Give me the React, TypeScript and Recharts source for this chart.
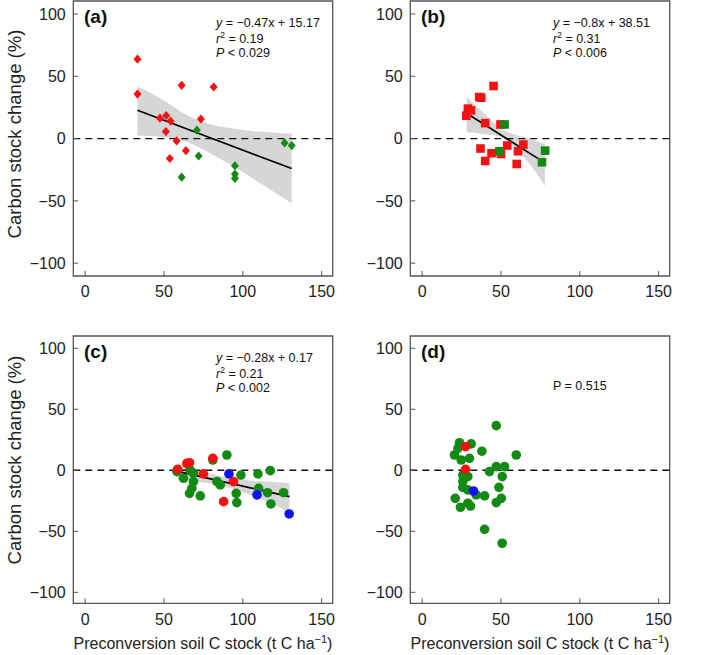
import React from 'react';
import { ComposedChart, Scatter, Area, XAxis, YAxis, ReferenceLine, ReferenceArea } from 'recharts';

const FONT = '"Liberation Sans", Arial, Helvetica, sans-serif';
const RED = '#f21212';
const GREEN = '#138a13';
const BLUE = '#1212ee';

const xTicks = [0, 50, 100, 150];
const yTicks = [-100, -50, 0, 50, 100];

// (a) pasture -> cropland, diamonds
const aRed = [[33.2, 63.7], [33.2, 35.7], [61.2, 42.7], [81.5, 41.4], [47.4, 16.4], [51.4, 18.5], [54.2, 14], [73.4, 15.6], [51.2, 5.6], [58, -1.9], [63.9, -9.7], [53.7, -16]];
const aGreen = [[70.9, 6.7], [72, -14], [61.2, -31], [95, -21.8], [95, -28.5], [95, -32], [126.5, -3.5], [131, -5.6]];
const aFit = [[33.2, 22.7], [131, -24.1]];
const aBandX = [33.2, 50, 65, 80, 95, 110, 131];
const aBandLo = [2.4, 1, -3, -12.4, -23, -35, -52];
const aBandHi = [42, 30.6, 18.5, 11.3, 7.8, 5.6, 3.8];

// (b) squares
const bRed = [[45.3, 42.2], [36.2, 33.3], [37.5, 32.8], [29, 24], [31, 22.6], [28, 18.3], [40, 12.4], [37, -8], [44, -11.8], [40, -18], [50, -12.4], [54, -5.6], [60.8, -10.2], [64.2, -4.8], [60, -20.4], [49.7, 11.3]];
const bGreen = [[52.3, 11.3], [49, -10.2], [78, -9.7], [76, -19]];
const bFit = [[30.7, 18.3], [73.6, -16.1]];
const bBandX = [28.2, 39.6, 50.2, 60.8, 71.4, 77.8];
const bBandLo = [5.1, 3.5, 1, -9.7, -25.8, -37.9];
const bBandHi = [33.3, 19.9, 7.8, 2.4, -1.6, -4.3];

// (c) circles
const cRed = [[58.6, 0.8], [64.5, 5.7], [66.2, 6.2], [81, 9.8], [75, -3], [94.1, -9.3], [87.8, -25.7]];
const cBlue = [[91.2, -3], [109, -20.2], [129.4, -35.8]];
const cGreen = [[58.2, -1.1], [62.4, -6.6], [66.6, 0.2], [68.7, -2.5], [68.7, -9.3], [67.7, -14.8], [66.2, -18.9], [73, -21], [81, 8.4], [89.9, 12.5], [83.6, -9.3], [85.7, -12], [98.8, -3.9], [95.8, -18.9], [96.2, -26.5], [109.6, -3], [110, -14.8], [117.4, -0.3], [115.7, -18.4], [117.8, -27.6], [125.8, -18.4]];
const cFit = [[59.2, -1.1], [129.6, -21.6]];
const cBandX = [59.2, 75, 90, 105, 118, 129.6];
const cBandLo = [-8, -10, -14, -20.4, -27, -34.8];
const cBandHi = [6, -1, -6, -8.4, -9.5, -10.7];

// (d) circles, no fit
const dGreen = [[47, 36.6], [23.7, 22.6], [31.1, 21.6], [22.7, 18], [20.5, 12.5], [37.9, 15.6], [59.7, 12.5], [30, 9.8], [24.8, 8.4], [47, 3], [52.3, 3], [42.7, -1.1], [50.8, -5.2], [25.8, -3.9], [29, -5.2], [25.8, -9.3], [25.8, -14], [29, -16.1], [48.7, -14], [39.6, -21], [21, -23], [50.2, -23], [47, -26.5], [29, -27], [30.7, -29.3], [24.3, -30.3], [39.6, -48.4], [50.8, -59.8], [34.3, -20.2]];
const dRed = [[27.5, 19.3], [27.5, 0.8]];
const dBlue = [[32.6, -17]];

const pts = (a: number[][]) => a.map(([x, y]) => ({ x, y }));
const minus = (v: number) => String(v).replace('-', '\u2212');

const diamond = (p: any) => (
  <path d={`M${p.cx},${p.cy - 4.6}L${p.cx + 4},${p.cy}L${p.cx},${p.cy + 4.6}L${p.cx - 4},${p.cy}Z`} fill={p.fill} />
);
const square = (p: any) => <rect x={p.cx - 4.3} y={p.cy - 4.3} width={8.6} height={8.6} fill={p.fill} />;
const circle = (p: any) => <circle cx={p.cx} cy={p.cy} r={4.8} fill={p.fill} />;
const none = () => <g />;

const YTick = (p: any) => (
  <text x={p.x} y={p.y} dy="0.355em" textAnchor="end" fontSize={16} fill="#222" fontFamily={FONT}>
    {minus(p.payload.value)}
  </text>
);

interface PanelProps {
  left: number;
  top: number;
  height: number;
  plotH: number;
  yDomain: number[];
  tag: string;
  note: React.ReactNode;
  shape: any;
  groups: { pts: number[][]; color: string }[];
  fit?: number[][];
  bandX?: number[];
  bandLo?: number[];
  bandHi?: number[];
  yTitleY?: number;
  xTitle?: boolean;
}

function Panel(props: PanelProps) {
  const { left, top, height, plotH, yDomain, tag, note, shape, groups, fit, bandX, bandLo, bandHi, yTitleY, xTitle } = props;
  const data = bandX ? bandX.map((x, i) => ({ x, band: [bandLo![i], bandHi![i]] })) : [];
  const tickStyle = { fontSize: 16, fill: '#222', fontFamily: FONT };
  return (
    <div style={{ position: 'absolute', left, top }}>
      <ComposedChart width={340} height={height} data={data} margin={{ top: 1, right: 7.3, bottom: 0, left: 0 }}>
        <XAxis type="number" dataKey="x" domain={[-7.5, 157]} ticks={xTicks} allowDataOverflow axisLine={false}
          tickSize={-5} tickMargin={15} tickLine={{ stroke: '#555' }} tick={tickStyle} height={height - 1 - plotH} />
        <YAxis type="number" dataKey="y" domain={yDomain} ticks={yTicks} allowDataOverflow axisLine={false}
          tickSize={-5} tickMargin={12.6} tickLine={{ stroke: '#555' }} tick={<YTick />} width={73.3} />
        {bandX && (
          <Area dataKey="band" type="monotone" fill="#d6d6d6" fillOpacity={1} stroke="none" isAnimationActive={false} />
        )}
        <ReferenceLine y={0} stroke="#111" strokeWidth={1.3} strokeDasharray="7 5" />
        {fit && (
          <Scatter data={pts(fit)} line={{ stroke: '#000', strokeWidth: 1.6 }} shape={none} isAnimationActive={false} />
        )}
        {groups.map((g, i) => (
          <Scatter key={i} data={pts(g.pts)} fill={g.color} shape={shape} isAnimationActive={false} />
        ))}
        <ReferenceArea x1={-7.5} x2={157} y1={yDomain[0]} y2={yDomain[1]} fill="none" stroke="#555" strokeWidth={1.3} ifOverflow="visible" />
        <text x={84} y={23} fontFamily={FONT} fontSize={19} fontWeight="bold" fill="#111">{tag}</text>
        <g fontFamily={FONT} fontSize={12.5} fill="#111">{note}</g>
        {yTitleY !== undefined && (
          <text x={21} y={yTitleY} transform={`rotate(-90, 21, ${yTitleY})`} textAnchor="middle" fontFamily={FONT} fontSize={18.5} fill="#222">
            Carbon stock change (%)
          </text>
        )}
        {xTitle && (
          <text x={203} y={313.5} textAnchor="middle" fontFamily={FONT} fontSize={16} fill="#222">
            Preconversion soil C stock (t C ha<tspan dy={-6} fontSize={11}>−1</tspan><tspan dy={6}>)</tspan>
          </text>
        )}
      </ComposedChart>
    </div>
  );
}

const stats = (slope: string, r2: string, p: string) => (
  <>
    <text x={216} y={26.5}><tspan fontStyle="italic">y</tspan> = {slope}</text>
    <text x={216} y={42.5}><tspan fontStyle="italic">r</tspan><tspan dy={-5} fontSize={8.5}>2</tspan><tspan dy={5}> = {r2}</tspan></text>
    <text x={216} y={56.5}><tspan fontStyle="italic">P</tspan> &lt; {p}</text>
  </>
);

export default function App() {
  return (
    <div style={{ position: 'absolute', left: 0, top: 0, width: 709, height: 655, background: '#fff', fontFamily: FONT }}>
      <Panel left={0} top={0} height={300} plotH={275} yDomain={[-110.3, 110.4]} tag="(a)" shape={diamond}
        groups={[{ pts: aRed, color: RED }, { pts: aGreen, color: GREEN }]}
        fit={aFit} bandX={aBandX} bandLo={aBandLo} bandHi={aBandHi} yTitleY={134}
        note={stats('−0.47x + 15.17', '0.19', '0.029')} />
      <Panel left={337} top={0} height={300} plotH={275} yDomain={[-110.3, 110.4]} tag="(b)" shape={square}
        groups={[{ pts: bRed, color: RED }, { pts: bGreen, color: GREEN }]}
        fit={bFit} bandX={bBandX} bandLo={bBandLo} bandHi={bBandHi}
        note={stats('−0.8x + 38.51', '0.31', '0.006')} />
      <Panel left={0} top={335} height={320} plotH={267.3} yDomain={[-109, 110]} tag="(c)" shape={circle}
        groups={[{ pts: cGreen, color: GREEN }, { pts: cRed, color: RED }, { pts: cBlue, color: BLUE }]}
        fit={cFit} bandX={cBandX} bandLo={cBandLo} bandHi={cBandHi} yTitleY={125} xTitle
        note={stats('−0.28x + 0.17', '0.21', '0.002')} />
      <Panel left={337} top={335} height={320} plotH={267.3} yDomain={[-109, 110]} tag="(d)" shape={circle}
        groups={[{ pts: dGreen, color: GREEN }, { pts: dRed, color: RED }, { pts: dBlue, color: BLUE }]}
        xTitle
        note={<text x={216} y={54.5}>P = 0.515</text>} />
    </div>
  );
}
